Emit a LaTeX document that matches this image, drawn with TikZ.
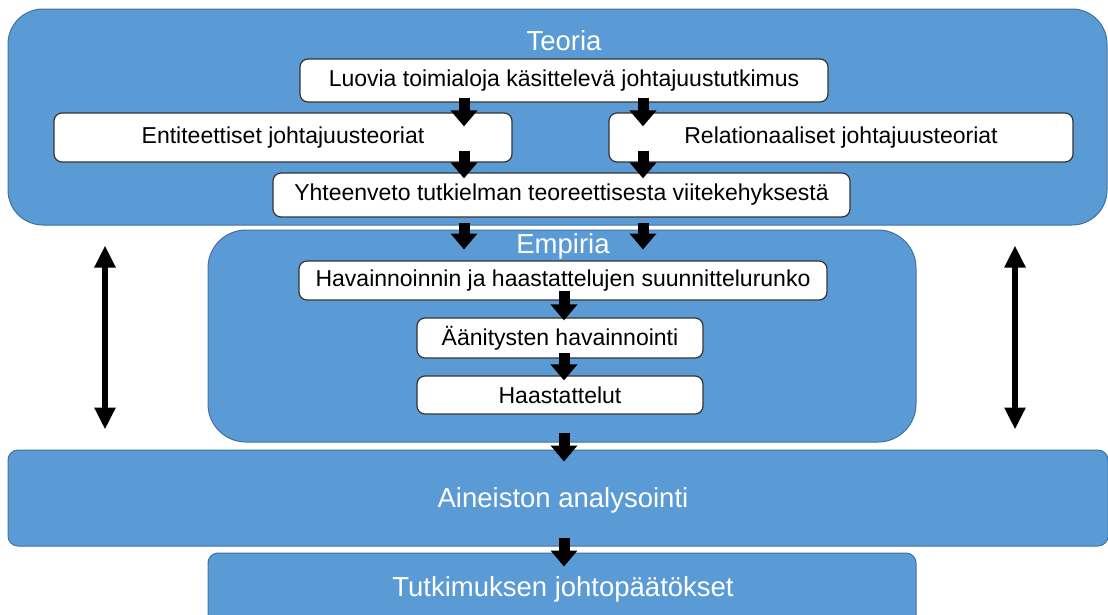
\documentclass[tikz,border=0pt]{standalone}
\usepackage{fontspec}
\setmainfont{Liberation Sans}
\usetikzlibrary{arrows.meta,calc}
\definecolor{boxblue}{HTML}{5B9BD5}
\definecolor{boxline}{HTML}{41719C}
\begin{document}
\begin{tikzpicture}[x=1pt,y=-1pt,
  bigbox/.style={fill=boxblue,draw=boxline,line width=1pt,inner sep=0pt},
  wbox/.style={fill=white,draw=black!80,line width=1.2pt,rounded corners=8pt,inner sep=0pt,text=black,font=\fontsize{23}{27}\selectfont},
  ttl/.style={text=white,font=\fontsize{27.5}{32}\selectfont,inner sep=0pt},
  blk/.style={line width=11pt,-{Triangle[width=26pt,length=16pt]},black},
  dbl/.style={line width=6pt,{Triangle[width=20pt,length=22pt]}-{Triangle[width=20pt,length=22pt]},black}]
\useasboundingbox (0,0) rectangle (1108,614);
% big boxes
\node[bigbox,rounded corners=35pt,minimum width=1099pt,minimum height=216pt] (teoria) at (557.5,117) {};
\node[ttl] (teoriaT) at (564,41) {Teoria};
\node[bigbox,rounded corners=38pt,minimum width=708pt,minimum height=212pt] (empiria) at (562,336) {};
\node[ttl] (empiriaT) at (563,246) {Empiria};
\node[bigbox,rounded corners=10pt,minimum width=1100pt,minimum height=96pt] (ain) at (558,498) {};
\node[ttl] (ainT) at (563,500) {Aineiston analysointi};
\node[bigbox,rounded corners=10pt,minimum width=708pt,minimum height=72pt] (tutk) at (562,589) {};
\node[ttl] (tutkT) at (563,589) {Tutkimuksen johtopäätökset};
% white boxes
\node[wbox,minimum width=528pt,minimum height=43pt] (luovia) at (564,80.5) {Luovia toimialoja käsittelevä johtajuustutkimus};
\node[wbox,minimum width=458pt,minimum height=49pt] (ent) at (283,137.5) {Entiteettiset johtajuusteoriat};
\node[wbox,minimum width=464pt,minimum height=49pt] (rel) at (841,137.5) {Relationaaliset johtajuusteoriat};
\node[wbox,minimum width=577pt,minimum height=44pt] (yht) at (561.5,195) {Yhteenveto tutkielman teoreettisesta viitekehyksestä};
\node[wbox,minimum width=528pt,minimum height=39pt] (hav) at (563,280.5) {Havainnoinnin ja haastattelujen suunnittelurunko};
\node[wbox,minimum width=286pt,minimum height=40pt] (aan) at (560,338) {Äänitysten havainnointi};
\node[wbox,minimum width=286pt,minimum height=38pt] (haas) at (560,395) {Haastattelut};
% columns
\coordinate (cL) at (464,0);
\coordinate (cR) at (643,0);
\coordinate (cM) at (564,0);
\coordinate (dL) at (105,0);
\coordinate (dR) at (1015,0);
% arrows
\draw[blk] ($(luovia.south -| cL)+(0,-5)$) -- ($(ent.north -| cL)+(0,14)$);
\draw[blk] ($(luovia.south -| cR)+(0,-5)$) -- ($(rel.north -| cR)+(0,14)$);
\draw[blk] ($(ent.south -| cL)+(0,-12)$) -- ($(yht.north -| cL)+(0,6)$);
\draw[blk] ($(rel.south -| cR)+(0,-12)$) -- ($(yht.north -| cR)+(0,6)$);
\draw[blk] ($(yht.south -| cL)+(0,5)$) -- ($(empiria.north -| cL)+(0,20)$);
\draw[blk] ($(yht.south -| cR)+(0,5)$) -- ($(empiria.north -| cR)+(0,20)$);
\draw[blk] ($(hav.south -| cM)+(0,-10)$) -- ($(aan.north -| cM)+(0,3)$);
\draw[blk] ($(aan.south -| cM)+(0,-6)$) -- ($(haas.north -| cM)+(0,5)$);
\draw[blk] ($(empiria.south -| cM)+(0,-10)$) -- ($(ain.north -| cM)+(0,12)$);
\draw[blk] ($(ain.south -| cM)+(0,-9)$) -- ($(tutk.north -| cM)+(0,14)$);
\draw[dbl] ($(teoria.south -| dL)+(0,20)$) -- ($(ain.north -| dL)+(0,-20)$);
\draw[dbl] ($(teoria.south -| dR)+(0,20)$) -- ($(ain.north -| dR)+(0,-20)$);
\end{tikzpicture}
\end{document}
